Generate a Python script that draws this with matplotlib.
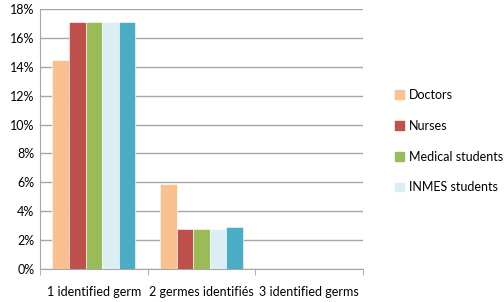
import numpy as np
from matplotlib import pyplot as plt
from matplotlib.patches import Patch
from matplotlib.ticker import PercentFormatter

categories = ["1 identified germ", "2 germes identifiés", "3 identified germs"]
series_names = ["Doctors", "Nurses", "Medical students", "INMES students", ""]
doctors = [14.5, 5.9, 0]
nurses = [17.1, 2.8, 0]
medical_students = [17.1, 2.8, 0]
inmes_students = [17.1, 2.8, 0]
fifth_series = [17.1, 2.9, 0]
colors = ["#FAC090", "#C0504D", "#9BBB59", "#DBEEF4", "#4BACC6"]

plt.rcParams['font.family'] = ['Lato', 'DejaVu Sans']

fig = plt.figure(figsize=(5.04, 3.02), dpi=100)
ax = fig.add_axes([40 / 504, 33 / 302, 323 / 504, 260 / 302])

x = np.arange(len(categories))
width = 0.77 / 5
all_series = [doctors, nurses, medical_students, inmes_students, fifth_series]
for i, (vals, col) in enumerate(zip(all_series, colors)):
    ax.bar(x + (i - 2) * width, vals, width, color=col, edgecolor='white', linewidth=0.4, zorder=3)

ax.set_xlim(-0.5, len(categories) - 0.5)
ax.set_ylim(0, 18)
ax.set_yticks(np.arange(0, 19, 2))
ax.yaxis.set_major_formatter(PercentFormatter(decimals=0))
ax.grid(axis='y', color='#A6A6A6', linewidth=1, zorder=0)

ax.set_xticks(x)
ax.set_xticklabels(categories, fontsize=9)
ax.set_xticks(np.arange(-0.5, len(categories)), minor=True)
ax.tick_params(axis='x', which='major', length=0, pad=12)
ax.tick_params(axis='x', which='minor', length=4, color='#A6A6A6')
ax.tick_params(axis='y', length=0, labelsize=9, pad=4)

for s in ['top', 'right']:
    ax.spines[s].set_visible(False)
for s in ['left', 'bottom']:
    ax.spines[s].set_color('#A6A6A6')

handles = [Patch(color=c) for c in colors[:4]]
fig.legend(handles, series_names[:4], loc='upper left', bbox_to_anchor=(395 / 504, 1 - 89 / 302),
           frameon=False, fontsize=9, handlelength=0.7, handleheight=0.7,
           labelspacing=1.5, handletextpad=0.4, borderaxespad=0, borderpad=0)

fig.savefig("out.png", dpi=100)
